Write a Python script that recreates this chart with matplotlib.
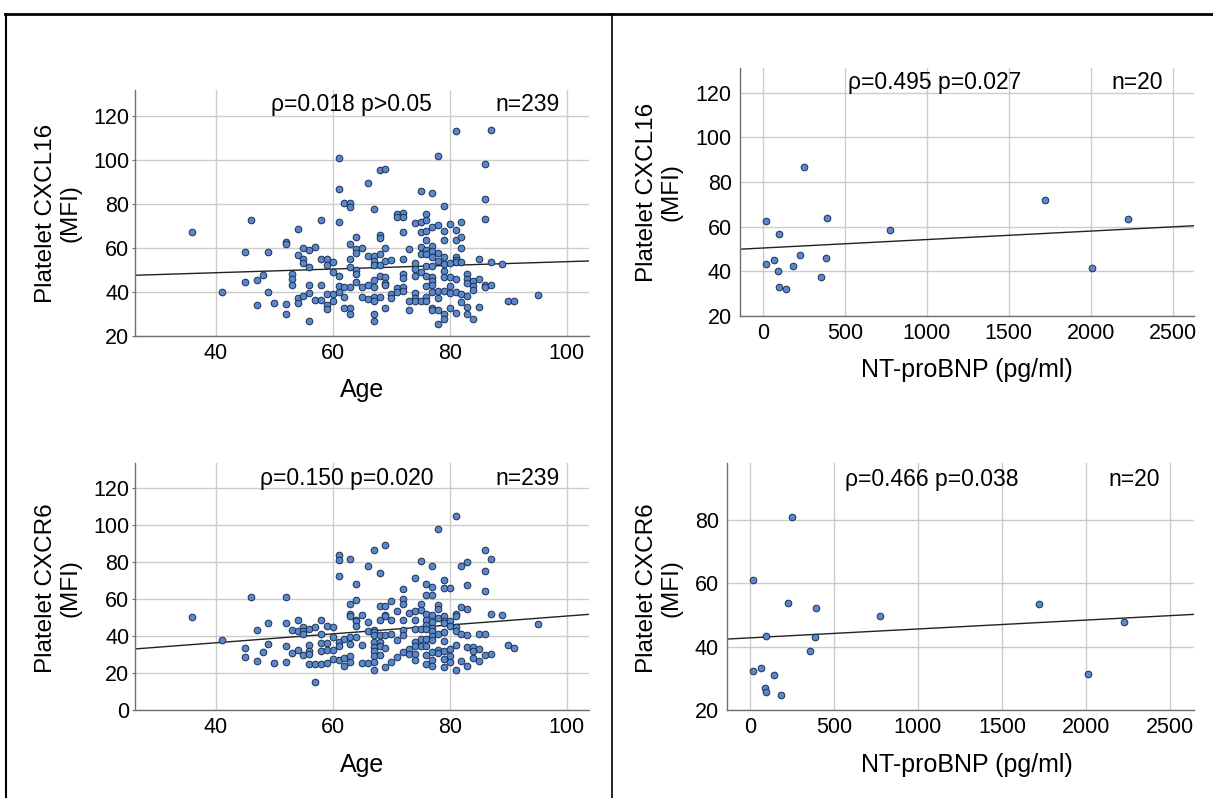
import numpy as np
import matplotlib
matplotlib.use("Agg")
import matplotlib.pyplot as plt
from matplotlib.lines import Line2D

plt.rcParams['font.family'] = ['Liberation Sans', 'DejaVu Sans']

# ---------------- data ----------------
# Panel A: Age vs Platelet CXCL16 (MFI)
age_a = [36, 41, 45, 45, 46, 47, 47, 48, 49, 49, 50, 52, 52, 52, 52, 53, 53, 53, 54, 54,
         54, 54, 55, 55, 55, 55, 56, 56, 56, 56, 56, 57, 57, 58, 58, 58, 58, 59, 59, 59,
         59, 59, 60, 60, 60, 60, 61, 61, 61, 61, 61, 61, 62, 63, 63, 63, 63, 63, 63, 63,
         63, 62, 62, 62, 64, 64, 64, 64, 64, 64, 65, 65, 65, 66, 66, 66, 66, 67, 67, 67,
         67, 67, 67, 67, 67, 67, 67, 68, 68, 68, 68, 68, 68, 68, 69, 69, 69, 69, 69, 69,
         69, 70, 70, 70, 71, 71, 71, 71, 72, 72, 72, 72, 72, 72, 72, 72, 73, 73, 73, 74,
         74, 74, 74, 74, 74, 74, 75, 75, 75, 75, 75, 75, 75, 76, 76, 76, 76, 76, 76, 76,
         76, 76, 76, 76, 77, 77, 77, 77, 77, 77, 77, 77, 77, 77, 77, 77, 78, 78, 78, 78,
         78, 78, 78, 78, 79, 79, 79, 79, 79, 79, 79, 79, 79, 79, 80, 80, 80, 80, 80, 80,
         81, 81, 81, 81, 81, 81, 81, 81, 81, 82, 82, 82, 82, 82, 82, 83, 83, 83, 83, 83,
         83, 84, 84, 84, 84, 85, 85, 85, 86, 86, 86, 86, 86, 87, 87, 87, 89, 90, 91, 95]
cxcl16 = [67.4, 40.1, 58.4, 44.5, 72.5, 34.2, 45.4, 47.6, 58.4, 40.0, 35.1, 62.6, 62.0, 34.6, 30.1, 48.4, 45.8, 43.1, 68.5, 56.8,
          37.3, 34.9, 59.8, 55.1, 53.3, 38.0, 59.3, 51.4, 43.3, 39.4, 26.7, 60.4, 36.3, 72.5, 55.1, 43.3, 36.5, 55.1, 52.1, 39.1,
          34.3, 32.4, 53.6, 49.0, 39.0, 35.8, 101.0, 86.6, 71.8, 47.3, 42.7, 40.1, 80.6, 80.6, 78.8, 62.0, 54.8, 51.5, 42.4, 32.7,
          30.1, 32.7, 37.6, 42.4, 65.2, 59.6, 57.5, 50.2, 48.1, 44.5, 60.0, 42.1, 37.6, 89.6, 56.3, 43.1, 36.9, 77.6, 56.3, 54.1,
          52.1, 45.4, 42.1, 37.6, 36.1, 30.1, 26.7, 95.3, 66.1, 64.6, 57.4, 52.1, 47.3, 37.9, 96.0, 60.0, 54.1, 46.6, 44.3, 43.1,
          32.7, 54.5, 39.1, 37.3, 75.5, 74.0, 41.8, 39.9, 76.0, 74.3, 67.3, 54.8, 48.1, 46.3, 42.1, 40.6, 59.6, 35.7, 31.6, 71.3,
          53.3, 50.6, 47.3, 39.6, 37.2, 35.8, 85.8, 71.6, 67.3, 60.4, 57.4, 49.1, 36.1, 75.4, 72.8, 67.9, 63.5, 59.3, 57.1, 51.8,
          47.3, 42.8, 37.6, 36.1, 85.1, 69.5, 60.8, 58.6, 56.0, 51.8, 46.6, 45.1, 43.3, 39.9, 32.8, 31.9, 102.0, 70.3, 57.8, 54.1,
          40.6, 37.2, 31.6, 25.6, 79.1, 67.6, 63.8, 56.0, 52.9, 49.6, 46.9, 40.3, 30.1, 27.9, 70.9, 53.3, 46.9, 42.8, 39.6, 32.7,
          113.0, 68.3, 63.5, 56.0, 54.5, 53.6, 45.8, 39.9, 30.6, 71.6, 65.0, 60.0, 53.6, 39.1, 35.4, 48.4, 45.8, 44.3, 38.4, 33.1,
          30.1, 45.1, 42.5, 41.0, 27.9, 54.8, 46.0, 33.1, 98.0, 82.1, 73.1, 43.3, 42.1, 113.6, 53.6, 43.3, 52.9, 36.1, 36.1, 38.7]
fit_a_x = [26.2, 103.8]
fit_a_y = [47.6, 54.1]

# Panel B: NT-proBNP vs Platelet CXCL16 (MFI)
ntprobnp = [20, 20, 65, 90, 97, 95, 140, 183, 226, 250, 355, 387, 392, 773, 1720, 2010, 2225]
cxcl16_b = [62.7, 43.4, 44.9, 40.0, 56.5, 32.9, 32.1, 42.2, 47.2, 86.6, 37.4, 45.9, 63.7, 58.3, 71.8, 41.3, 63.6]
fit_b_x = [-140, 2630]
fit_b_y = [49.9, 60.4]

# Panel C: Age vs Platelet CXCR6 (MFI)
age_c = [36, 41, 45, 45, 46, 47, 47, 48, 49, 49, 50, 52, 52, 52, 52, 53, 53, 54, 54, 54,
         55, 55, 55, 55, 56, 56, 56, 56, 56, 57, 57, 57, 58, 58, 58, 58, 58, 59, 59, 59,
         59, 60, 60, 60, 60, 61, 61, 61, 61, 61, 61, 62, 62, 62, 63, 63, 63, 63, 63, 63,
         63, 63, 64, 64, 64, 64, 64, 64, 65, 65, 65, 66, 66, 66, 66, 67, 67, 67, 67, 67,
         67, 67, 67, 67, 67, 68, 68, 68, 68, 68, 68, 68, 69, 69, 69, 69, 69, 69, 69, 70,
         70, 70, 70, 71, 71, 71, 72, 72, 72, 72, 72, 72, 72, 73, 73, 73, 74, 74, 74, 74,
         74, 74, 74, 74, 75, 75, 75, 75, 75, 75, 76, 76, 76, 76, 76, 76, 76, 76, 76, 76,
         77, 77, 77, 77, 77, 77, 77, 77, 77, 77, 77, 77, 78, 78, 78, 78, 78, 78, 78, 79,
         79, 79, 79, 79, 79, 79, 79, 79, 79, 80, 80, 80, 80, 80, 80, 81, 81, 81, 81, 81,
         81, 81, 82, 82, 82, 82, 83, 83, 83, 83, 83, 83, 84, 84, 84, 85, 85, 85, 86, 86,
         86, 86, 86, 87, 87, 87, 89, 90, 91, 95]
cxcr6 = [50.5, 38.0, 33.5, 28.5, 60.9, 43.2, 26.5, 31.5, 47.0, 35.5, 25.2, 60.9, 46.8, 34.8, 25.9, 43.2, 30.8, 48.5, 42.5, 32.6,
         44.7, 42.5, 41.1, 29.9, 44.0, 35.3, 32.1, 30.3, 24.9, 44.7, 24.9, 15.0, 48.8, 41.1, 36.2, 32.1, 24.9, 45.6, 36.2, 32.6,
         25.4, 44.7, 39.5, 32.6, 27.7, 84.0, 81.3, 72.3, 36.6, 34.4, 27.2, 38.6, 28.1, 24.0, 81.6, 57.5, 51.9, 50.6, 39.5, 35.7,
         29.0, 25.8, 67.9, 59.3, 48.8, 47.9, 45.2, 39.5, 51.2, 35.3, 25.4, 78.0, 47.6, 42.5, 25.4, 86.7, 43.4, 42.2, 40.7, 36.8,
         34.1, 31.7, 29.0, 25.9, 21.8, 74.0, 56.0, 48.5, 40.7, 36.6, 34.4, 29.9, 89.4, 56.0, 51.5, 50.6, 40.7, 33.5, 23.2, 58.7,
         48.8, 41.3, 25.8, 53.7, 37.7, 28.6, 65.6, 60.2, 57.5, 48.8, 43.4, 40.4, 31.2, 52.4, 33.2, 30.5, 71.4, 53.7, 48.8, 44.0,
         36.8, 34.4, 30.5, 27.2, 80.4, 57.3, 54.2, 43.8, 38.6, 34.4, 68.3, 62.0, 51.9, 48.8, 46.1, 43.8, 38.4, 34.8, 29.9, 24.9,
         77.7, 66.5, 62.3, 51.2, 47.6, 44.3, 42.5, 40.2, 38.0, 31.4, 27.2, 24.0, 98.0, 56.9, 54.8, 49.7, 41.1, 32.6, 30.8, 70.5,
         66.0, 51.0, 47.9, 47.0, 42.0, 37.5, 32.1, 27.7, 23.1, 66.0, 47.9, 45.2, 33.2, 29.0, 25.9, 105.0, 52.1, 50.6, 44.9, 42.5,
         35.3, 21.8, 78.0, 55.7, 41.3, 26.3, 80.0, 67.7, 54.6, 40.7, 34.1, 23.6, 34.1, 31.7, 28.1, 41.3, 33.2, 26.7, 86.7, 75.3,
         64.1, 41.3, 29.5, 81.6, 51.9, 30.5, 51.2, 35.3, 33.5, 46.7]
fit_c_x = [26.2, 103.8]
fit_c_y = [33.0, 51.7]

# Panel D: NT-proBNP vs Platelet CXCR6 (MFI)
cxcr6_d = [60.9, 32.2, 33.3, 27.1, 43.4, 25.7, 31.1, 24.7, 53.8, 81.0, 38.6, 43.0, 52.1, 49.6, 53.6, 31.4, 47.8]
fit_d_x = [-137, 2643]
fit_d_y = [42.4, 50.2]

ytick_a = [20, 40, 60, 80, 100, 120]
ytick_c = [0, 20, 40, 60, 80, 100, 120]
ytick_d = [20, 40, 60, 80]
xtick_age = [40, 60, 80, 100]
xtick_bnp = [0, 500, 1000, 1500, 2000, 2500]

# ---------------- figure ----------------
W, H = 1213, 798
fig = plt.figure(figsize=(W / 100, H / 100), dpi=100)


def ax_at(l, r, t, b):
    return fig.add_axes([l / W, 1 - b / H, (r - l) / W, (b - t) / H])


FILL = '#5a88cc'
EDGE = '#1c3050'
GRID = '#cccccc'
SPINE = '#707070'


def style(ax, xl, yl, xt, yt, ticklen, pad):
    ax.set_xlim(*xl)
    ax.set_ylim(*yl)
    ax.set_xticks(xt)
    ax.set_yticks(yt)
    ax.grid(True, color=GRID, lw=1.0)
    ax.set_axisbelow(True)
    for s in ('top', 'right'):
        ax.spines[s].set_visible(False)
    for s in ('left', 'bottom'):
        ax.spines[s].set_color(SPINE)
        ax.spines[s].set_linewidth(1.0)
    ax.tick_params(axis='y', length=ticklen, color=SPINE, pad=pad, labelsize=15.5)
    ax.tick_params(axis='x', length=0, pad=5, labelsize=15.5)


panels = [
    (135, 589, 90, 336, age_a, cxcl16, fit_a_x, fit_a_y, (26.2, 103.8), (20, 131.8), xtick_age, ytick_a, 2.5, 1.5),
    (740, 1194, 68, 316, ntprobnp, cxcl16_b, fit_b_x, fit_b_y, (-140, 2630), (20, 131), xtick_bnp, ytick_a, 0, 6),
    (135, 589, 463, 710, age_c, cxcr6, fit_c_x, fit_c_y, (26.2, 103.8), (0, 133.5), xtick_age, ytick_c, 2.5, 1.5),
    (727, 1194, 463, 710, ntprobnp, cxcr6_d, fit_d_x, fit_d_y, (-137, 2643), (20, 98), xtick_bnp, ytick_d, 0, 6),
]

for (l, r, t, b, xs, ys, fx, fy, xl, yl, xt, yt, tl, pd) in panels:
    ax = ax_at(l, r, t, b)
    style(ax, xl, yl, xt, yt, tl, pd)
    ax.scatter(xs, ys, s=23, c=FILL, edgecolors=EDGE, linewidths=0.7, zorder=3)
    ax.plot(fx, fy, color='#222222', lw=1.0, zorder=2)

# overlay for frame lines and text, in pixel coordinates
ov = fig.add_axes([0, 0, 1, 1], zorder=10)
ov.set_xlim(0, W)
ov.set_ylim(H, 0)
ov.axis('off')
ov.patch.set_alpha(0)

ov.add_line(Line2D([5, W], [14, 14], color='black', lw=2.0))
ov.add_line(Line2D([6, 6], [14, H], color='black', lw=1.5))
ov.add_line(Line2D([612, 612], [14, H], color='black', lw=1.2))

ann = [
    (351, 111, 'ρ=0.018 p>0.05', 560, 'n=239'),
    (935, 89, 'ρ=0.495 p=0.027', 1163, 'n=20'),
    (347, 485, 'ρ=0.150 p=0.020', 560, 'n=239'),
    (932, 486, 'ρ=0.466 p=0.038', 1160, 'n=20'),
]
for cx, by, txt, nx, ntxt in ann:
    ov.text(cx, by, txt, ha='center', va='baseline', fontsize=16.5)
    ov.text(nx, by, ntxt, ha='right', va='baseline', fontsize=16.5)

ylabels = [
    (58, 213, 'Platelet CXCL16\n(MFI)'),
    (659, 192, 'Platelet CXCL16\n(MFI)'),
    (58, 588, 'Platelet CXCR6\n(MFI)'),
    (659, 588, 'Platelet CXCR6\n(MFI)'),
]
for x, y, txt in ylabels:
    ov.text(x, y, txt, ha='center', va='center', rotation=90, fontsize=17.5,
            linespacing=1.15, multialignment='center')

xlabels = [
    (362, 390, 'Age'),
    (967, 370, 'NT-proBNP (pg/ml)'),
    (362, 765, 'Age'),
    (967, 765, 'NT-proBNP (pg/ml)'),
]
for x, y, txt in xlabels:
    ov.text(x, y, txt, ha='center', va='center', fontsize=18)

fig.savefig('out.png', dpi=100)
